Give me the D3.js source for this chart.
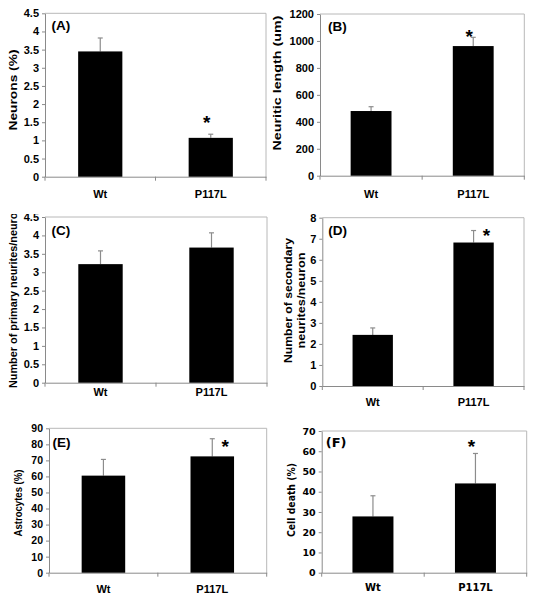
<!DOCTYPE html>
<html>
<head>
<meta charset="utf-8">
<script src="https://cdn.jsdelivr.net/npm/d3@7"></script>
<style>
  html, body { margin: 0; padding: 0; background: #fff; }
  svg { display: block; }
</style>
</head>
<body>
<script>
// ---------------- DATA ----------------
const categories = ["Wt", "P117L"];

const neuronsPct = [3.45, 1.07];
const neuronsErr = [0.37, 0.10];

const neuriticLength = [480, 962];
const neuriticLengthErr = [32, 65];

const primaryNeurites = [3.22, 3.67];
const primaryNeuritesErr = [0.36, 0.40];

const secondaryNeurites = [2.43, 6.82];
const secondaryNeuritesErr = [0.33, 0.57];

const astrocytesPct = [60.5, 72.5];
const astrocytesErr = [10.1, 11.0];

const cellDeathPct = [27.8, 44.1];
const cellDeathErr = [10.2, 14.8];

// significance star (value position in data units, null = none)
const starsA = [null, 1.62];
const starsB = [null, 1069];
const starsC = [null, null];
const starsD = [null, 7.37];
const starsE = [null, 81.6];
const starsF = [null, 64.7];

const ticksA = [0, 0.5, 1, 1.5, 2, 2.5, 3, 3.5, 4, 4.5];
const ticksB = [0, 200, 400, 600, 800, 1000, 1200];
const ticksC = [0, 0.5, 1, 1.5, 2, 2.5, 3, 3.5, 4, 4.5];
const ticksD = [0, 1, 2, 3, 4, 5, 6, 7, 8];
const ticksE = [0, 10, 20, 30, 40, 50, 60, 70, 80, 90];
const ticksF = [0, 10, 20, 30, 40, 50, 60, 70];

const panelLabels = ["(A)", "(B)", "(C)", "(D)", "(E)", "(F)"];
const yTitles = [
  ["Neurons (%)"],
  ["Neuritic length (um)"],
  ["Number of primary neurites/neuron"],
  ["Number of secondary", "neurites/neuron"],
  ["Astrocytes (%)"],
  ["Cell death (%)"]
];

// ---------------- LAYOUT ----------------
const ARIAL = "'Liberation Sans', Arial, sans-serif";
const VERDANA = "'DejaVu Sans', Verdana, sans-serif";

const panels = [
  { values: neuronsPct, errs: neuronsErr, stars: starsA, ticks: ticksA, max: 4.5,
    x0: 45, x1: 266, yTop: 13.3, yBot: 176.7, font: ARIAL,
    lab: { dx: 6.5, dy: 17 }, title: { x: 12.7, y: 90, len: [81], fs: 11 },
    xlabDy: 21.5, starDx: -4, tickFs: 11 },
  { values: neuriticLength, errs: neuriticLengthErr, stars: starsB, ticks: ticksB, max: 1200,
    x0: 320, x1: 524.3, yTop: 14, yBot: 175.7, font: ARIAL,
    lab: { dx: 8, dy: 16.5 }, title: { x: 276.7, y: 83, len: [135], fs: 11 },
    xlabDy: 22, starDx: -4, tickFs: 11 },
  { values: primaryNeurites, errs: primaryNeuritesErr, stars: starsC, ticks: ticksC, max: 4.5,
    x0: 45, x1: 267, yTop: 217, yBot: 382.7, font: ARIAL, clipTop: 214,
    lab: { dx: 6.5, dy: 17.5 }, title: { x: 13.3, y: 297, len: [182], fs: 10 },
    xlabDy: 13, starDx: 0, tickFs: 11 },
  { values: secondaryNeurites, errs: secondaryNeuritesErr, stars: starsD, ticks: ticksD, max: 8,
    x0: 322.3, x1: 524, yTop: 217.7, yBot: 386, font: ARIAL,
    lab: { dx: 6, dy: 17 }, title: { x: 294.5, y: 300.5, len: [125, 96], gap: 12.7, fs: 11 },
    xlabDy: 19.5, starDx: 13, tickFs: 11 },
  { values: astrocytesPct, errs: astrocytesErr, stars: starsE, ticks: ticksE, max: 90,
    x0: 49, x1: 266.7, yTop: 428.3, yBot: 572.7, font: ARIAL,
    lab: { dx: 3.5, dy: 18.5 }, title: { x: 18.3, y: 503, len: [67], fs: 10.5 },
    xlabDy: 20.3, starDx: 13, tickFs: 10.5 },
  { values: cellDeathPct, errs: cellDeathErr, stars: starsF, ticks: ticksF, max: 70,
    x0: 321.7, x1: 526.7, yTop: 431, yBot: 572.7, font: VERDANA,
    lab: { dx: 4, dy: 16 }, title: { x: 291.7, y: 500, len: [74], fs: 10 },
    xlabDy: 18.5, starDx: -4, tickFs: 9.5 }
];

const GRID = "#b8b8b8";
const AXIS = "#8a8a8a";
const ERR = "#8c8c8c";

const svg = d3.select("body").append("svg")
  .attr("width", 535).attr("height", 599);

panels.forEach((p, i) => {
  let g = svg.append("g");
  if (p.clipTop !== undefined) {
    const id = "clip" + i;
    svg.append("clipPath").attr("id", id)
      .append("rect").attr("x", 0).attr("y", p.clipTop).attr("width", 535).attr("height", 599 - p.clipTop);
    g.attr("clip-path", `url(#${id})`);
  }

  const x = d3.scaleBand().domain(categories).range([p.x0, p.x1])
    .paddingInner(0.6).paddingOuter(0.3);
  const y = d3.scaleLinear().domain([0, p.max]).range([p.yBot, p.yTop]);

  // frame top & right
  g.append("path")
    .attr("d", `M${p.x0},${p.yTop}H${p.x1}V${p.yBot}`)
    .attr("fill", "none").attr("stroke", GRID).attr("stroke-width", 1);

  // y axis
  const ya = g.append("g").attr("transform", `translate(${p.x0},0)`)
    .call(d3.axisLeft(y).tickValues(p.ticks).tickFormat(d => String(d))
      .tickSize(3).tickSizeOuter(0).tickPadding(3));
  ya.select(".domain").attr("stroke", AXIS);
  ya.selectAll(".tick line").attr("stroke", AXIS);
  ya.selectAll(".tick text")
    .attr("fill", "#000").style("font-family", p.font)
    .style("font-weight", "bold").style("font-size", p.tickFs + "px");

  // x axis
  const xa = g.append("g").attr("transform", `translate(0,${p.yBot})`)
    .call(d3.axisBottom(x).tickSize(0).tickSizeOuter(0).tickFormat(""));
  xa.select(".domain").attr("stroke", AXIS);
  const seps = [p.x0, (p.x0 + p.x1) / 2, p.x1];
  g.selectAll(".sep").data(seps).enter().append("line")
    .attr("x1", d => d).attr("x2", d => d)
    .attr("y1", p.yBot).attr("y2", p.yBot + 4)
    .attr("stroke", AXIS);

  // x labels
  g.selectAll(".xl").data(categories).enter().append("text")
    .attr("x", d => x(d) + x.bandwidth() / 2)
    .attr("y", p.yBot + p.xlabDy)
    .attr("text-anchor", "middle")
    .style("font-family", p.font).style("font-weight", "bold")
    .style("font-size", p.font === VERDANA ? "10px" : "11px")
    .text(d => d);

  const rows = categories.map((c, k) => ({ c, v: p.values[k], e: p.errs[k], s: p.stars[k] }));

  // error bars (upper half)
  rows.forEach(r => {
    const cx = x(r.c) + x.bandwidth() / 2;
    g.append("line").attr("x1", cx).attr("x2", cx)
      .attr("y1", y(r.v)).attr("y2", y(r.v + r.e))
      .attr("stroke", ERR).attr("stroke-width", 1.2);
    g.append("line").attr("x1", cx - 2.5).attr("x2", cx + 2.5)
      .attr("y1", y(r.v + r.e)).attr("y2", y(r.v + r.e))
      .attr("stroke", ERR).attr("stroke-width", 1.2);
  });

  // bars
  g.selectAll(".bar").data(rows).enter().append("rect")
    .attr("x", d => x(d.c)).attr("width", x.bandwidth())
    .attr("y", d => y(d.v)).attr("height", d => y(0) - y(d.v))
    .attr("fill", "#000");

  // stars
  const sfs = 19;
  rows.filter(r => r.s !== null).forEach(r => {
    g.append("text")
      .attr("x", x(r.c) + x.bandwidth() / 2 + p.starDx)
      .attr("y", y(r.s) + sfs * 0.6)
      .attr("text-anchor", "middle")
      .style("font-family", ARIAL).style("font-weight", "bold")
      .style("font-size", sfs + "px")
      .text("*");
  });

  // panel label
  g.append("text")
    .attr("x", p.x0 + p.lab.dx).attr("y", p.yTop + p.lab.dy)
    .style("font-family", p.font).style("font-weight", "bold")
    .style("font-size", p.font === VERDANA ? "13px" : "13.5px")
    .text(panelLabels[i]);

  // y title
  const lines = yTitles[i];
  const gap = p.title.gap || 0;
  lines.forEach((t, k) => {
    const off = (k - (lines.length - 1) / 2) * gap;
    g.append("text")
      .attr("transform", `translate(${p.title.x + off},${p.title.y}) rotate(-90)`)
      .attr("text-anchor", "middle")
      .attr("dy", "0.35em")
      .attr("textLength", p.title.len[k])
      .attr("lengthAdjust", "spacingAndGlyphs")
      .style("font-family", p.font).style("font-weight", "bold")
      .style("font-size", p.title.fs + "px")
      .text(t);
  });
});
</script>
</body>
</html>
